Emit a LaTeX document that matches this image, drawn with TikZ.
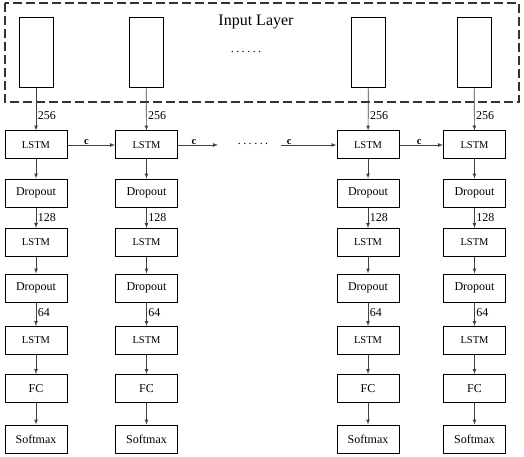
\documentclass[tikz,border=0pt]{standalone}
\usepackage{fontspec}
\setmainfont{Liberation Serif}
\usetikzlibrary{arrows}
\newcommand{\sixdots}{.\hspace{2.5pt}.\hspace{2.5pt}.\hspace{2.5pt}.\hspace{2.5pt}.\hspace{2.5pt}.}

\begin{document}
\begin{tikzpicture}[x=1pt, y=-1pt]
    \tikzset{Layer/.style = {draw, line width=1pt,
        minimum width = 62pt,
        minimum height = 28pt,
        inner sep = 0pt,
        font = \fontsize{12}{12}\selectfont},
      LSTM/.style = {Layer, font=\fontsize{10.5}{10.5}\selectfont},
      InBox/.style = {draw, line width=1pt, minimum width=34pt,
        minimum height=70pt, inner sep=0pt},
      Flow/.style = {->, >=latex, black!75, line width=0.7pt},
      Size/.style = {right, inner sep=1.5pt, text=black, font=\fontsize{12}{12}\selectfont},
      Link/.style = {above, inner sep=0.5pt, text=black, font=\bfseries\fontsize{10.5}{10.5}\selectfont}}
    \useasboundingbox (0,0) rectangle (524,457);
    % input layer
    \draw[dashed, dash pattern=on 9pt off 4pt, line width=1.1pt, black!80]
      (5,3) rectangle (519,102);
    \node[font=\fontsize{16}{16}\selectfont] (title) at (256,22) {Input Layer};
    \node[font=\fontsize{12}{12}\selectfont] (dotsin) at (246,52) {\sixdots};
    \node[InBox] (In1) at (36,53) {};
    \node[InBox] (In2) at (146,53) {};
    \node[InBox] (In3) at (368.5,53) {};
    \node[InBox] (In4) at (474,53) {};
    % column 1
    \node[LSTM] (La1) at (36,145) {LSTM};
    \node[Layer] (Da1) at (36,193) {Dropout};
    \node[LSTM] (Lb1) at (36,242.5) {LSTM};
    \node[Layer] (Db1) at (36,288) {Dropout};
    \node[LSTM] (Lc1) at (36,340.5) {LSTM};
    \node[Layer] (Fc1) at (36,388.5) {FC};
    \node[Layer] (Sm1) at (36,439) {Softmax};
    % column 2
    \node[LSTM] (La2) at (146.5,145) {LSTM};
    \node[Layer] (Da2) at (146.5,193) {Dropout};
    \node[LSTM] (Lb2) at (146.5,242.5) {LSTM};
    \node[Layer] (Db2) at (146.5,288) {Dropout};
    \node[LSTM] (Lc2) at (146.5,340.5) {LSTM};
    \node[Layer] (Fc2) at (146.5,388.5) {FC};
    \node[Layer] (Sm2) at (146.5,439) {Softmax};
    % column 3
    \node[LSTM] (La3) at (368,145) {LSTM};
    \node[Layer] (Da3) at (368,193) {Dropout};
    \node[LSTM] (Lb3) at (368,242.5) {LSTM};
    \node[Layer] (Db3) at (368,288) {Dropout};
    \node[LSTM] (Lc3) at (368,340.5) {LSTM};
    \node[Layer] (Fc3) at (368,388.5) {FC};
    \node[Layer] (Sm3) at (368,439) {Softmax};
    % column 4
    \node[LSTM] (La4) at (474.5,145) {LSTM};
    \node[Layer] (Da4) at (474.5,193) {Dropout};
    \node[LSTM] (Lb4) at (474.5,242.5) {LSTM};
    \node[Layer] (Db4) at (474.5,288) {Dropout};
    \node[LSTM] (Lc4) at (474.5,340.5) {LSTM};
    \node[Layer] (Fc4) at (474.5,388.5) {FC};
    \node[Layer] (Sm4) at (474.5,439) {Softmax};
    % the c chain
    \coordinate (cEnd) at (218,145);
    \coordinate (cStart) at (281,145);
    \node[font=\fontsize{12}{12}\selectfont] (dotsmid) at (253,144) {\sixdots};
    \draw[Flow] (La1) -- node[Link, pos=0.4] {c} (La2);
    \draw[Flow] (La2) -- node[Link, pos=0.4] {c} (cEnd);
    \draw[Flow] (cStart) -- node[Link, pos=0.15] {c} (La3);
    \draw[Flow] (La3) -- node[Link, pos=0.45] {c} (La4);
    % vertical flows
    \draw[Flow] (In1) -- node[Size, pos=0.65] {256} (La1);
    \draw[Flow] (In2) -- node[Size, pos=0.65] {256} (La2);
    \draw[Flow] (In3) -- node[Size, pos=0.65] {256} (La3);
    \draw[Flow] (In4) -- node[Size, pos=0.65] {256} (La4);
    \draw[Flow] (La1) -- (Da1);
    \draw[Flow] (La2) -- (Da2);
    \draw[Flow] (La3) -- (Da3);
    \draw[Flow] (La4) -- (Da4);
    \draw[Flow] (Da1) -- node[Size] {128} (Lb1);
    \draw[Flow] (Da2) -- node[Size] {128} (Lb2);
    \draw[Flow] (Da3) -- node[Size] {128} (Lb3);
    \draw[Flow] (Da4) -- node[Size] {128} (Lb4);
    \draw[Flow] (Lb1) -- (Db1);
    \draw[Flow] (Lb2) -- (Db2);
    \draw[Flow] (Lb3) -- (Db3);
    \draw[Flow] (Lb4) -- (Db4);
    \draw[Flow] (Db1) -- node[Size, pos=0.45] {64} (Lc1);
    \draw[Flow] (Db2) -- node[Size, pos=0.45] {64} (Lc2);
    \draw[Flow] (Db3) -- node[Size, pos=0.45] {64} (Lc3);
    \draw[Flow] (Db4) -- node[Size, pos=0.45] {64} (Lc4);
    \draw[Flow] (Lc1) -- (Fc1);
    \draw[Flow] (Lc2) -- (Fc2);
    \draw[Flow] (Lc3) -- (Fc3);
    \draw[Flow] (Lc4) -- (Fc4);
    \draw[Flow] (Fc1) -- (Sm1);
    \draw[Flow] (Fc2) -- (Sm2);
    \draw[Flow] (Fc3) -- (Sm3);
    \draw[Flow] (Fc4) -- (Sm4);
  \end{tikzpicture}
\end{document}
